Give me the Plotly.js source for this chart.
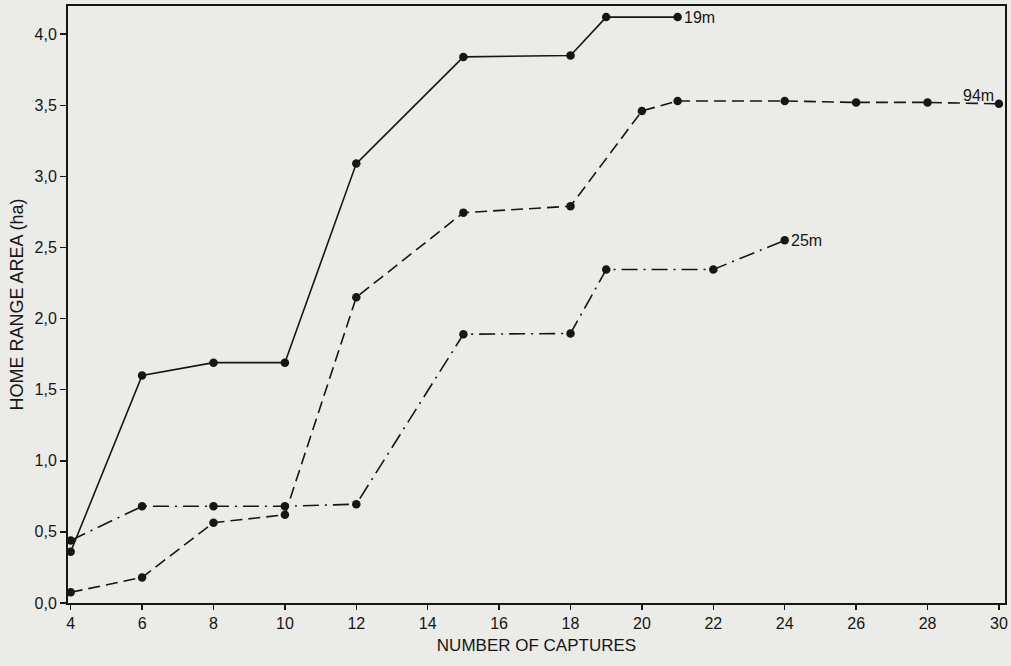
<!DOCTYPE html>
<html>
<head>
<meta charset="utf-8">
<script src="https://cdn.plot.ly/plotly-3.0.1.min.js"></script>
<style>
html,body{margin:0;padding:0;background:#ebebe7;}
#chart{width:1011px;height:666px;}
</style>
</head>
<body>
<div id="chart"></div>
<script>
// Data
const captures19 = [4, 6, 8, 10, 12, 15, 18, 19, 21];
const area19 = [0.36, 1.60, 1.69, 1.69, 3.09, 3.84, 3.85, 4.12, 4.12];

const captures94 = [4, 6, 8, 10, 12, 15, 18, 20, 21, 24, 26, 28, 30];
const area94 = [0.075, 0.18, 0.565, 0.62, 2.15, 2.745, 2.79, 3.46, 3.53, 3.53, 3.52, 3.52, 3.51];

const captures25 = [4, 6, 8, 10, 12, 15, 18, 19, 22, 24];
const area25 = [0.44, 0.68, 0.68, 0.68, 0.695, 1.89, 1.895, 2.345, 2.345, 2.55];

const seriesLabels = ["19m", "94m", "25m"];
const xTicks = [4, 6, 8, 10, 12, 14, 16, 18, 20, 22, 24, 26, 28, 30];
const yTicks = [0, 0.5, 1, 1.5, 2, 2.5, 3, 3.5, 4];

const ink = '#161616';
const fontFam = '"Liberation Sans", Arial, Helvetica, sans-serif';

function trace(x, y, dash, name) {
  return {
    x: x, y: y, name: name, type: 'scatter', mode: 'lines+markers',
    line: {color: ink, width: 1.6, dash: dash},
    marker: {color: ink, size: 8.5, symbol: 'circle'},
    cliponaxis: false, hoverinfo: 'x+y'
  };
}

const data = [
  trace(captures19, area19, 'solid', seriesLabels[0]),
  trace(captures94, area94, '12px,6px', seriesLabels[1]),
  trace(captures25, area25, '16px,6px,2px,6px', seriesLabels[2])
];

const last = a => a[a.length - 1];
const lblFont = {size: 16, family: fontFam, color: ink};

const layout = {
  width: 1011, height: 666,
  paper_bgcolor: '#ebebe7', plot_bgcolor: '#ebebe7',
  margin: {l: 68, r: 6, t: 6, b: 63},
  showlegend: false,
  separators: ',.',
  font: {family: fontFam, color: ink, size: 16},
  xaxis: {
    range: [3.925, 30.17], tickvals: xTicks, ticks: 'outside', ticklen: 5,
    tickwidth: 1.5, tickcolor: ink, showgrid: false, zeroline: false,
    showline: true, linecolor: ink, linewidth: 2, mirror: true,
    tickfont: {size: 16, family: fontFam, color: ink},
    title: {text: 'NUMBER OF CAPTURES', font: {size: 17, family: fontFam, color: ink}, standoff: 8}
  },
  yaxis: {
    range: [0, 4.198], tickvals: yTicks, tickformat: '.1f', ticks: 'outside', ticklen: 6,
    tickwidth: 1.5, tickcolor: ink, showgrid: false, zeroline: false,
    showline: true, linecolor: ink, linewidth: 2, mirror: true,
    tickfont: {size: 16, family: fontFam, color: ink},
    title: {text: 'HOME RANGE AREA (ha)', font: {size: 18, family: fontFam, color: ink}, standoff: 6}
  },
  annotations: [
    {x: last(captures19), y: last(area19), text: seriesLabels[0], showarrow: false,
     xanchor: 'left', yanchor: 'middle', xshift: 4, font: lblFont},
    {x: last(captures94), y: last(area94), text: seriesLabels[1], showarrow: false,
     xanchor: 'right', yanchor: 'bottom', xshift: -3, yshift: -2, font: lblFont},
    {x: last(captures25), y: last(area25), text: seriesLabels[2], showarrow: false,
     xanchor: 'left', yanchor: 'middle', xshift: 4, font: lblFont}
  ]
};

Plotly.newPlot('chart', data, layout, {displayModeBar: false, staticPlot: true});
</script>
</body>
</html>
